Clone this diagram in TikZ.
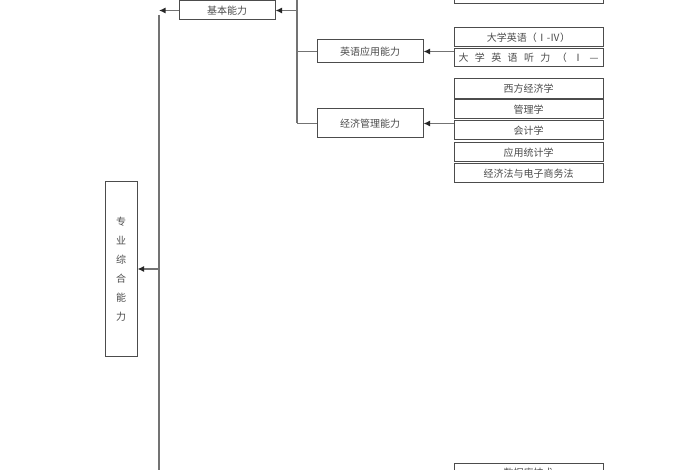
\documentclass[tikz,border=0pt]{standalone}
\usepackage{fontspec}
\newfontfamily\cjk{Noto Sans CJK SC}
\usetikzlibrary{arrows.meta}
\begin{document}
\begin{tikzpicture}[x=1pt,y=-1pt,
  box/.style={draw=black!70, line width=1pt, fill=white, inner sep=0pt,
    font=\cjk\fontsize{10}{12}\selectfont, text=black!70},
  conn/.style={draw=black!55, line width=1.2pt},
  arr/.style={conn, -{Latex[length=6.5pt,width=6pt,color=black!85]}}]
\useasboundingbox (0,0) rectangle (700,470);
% level 2
\node[box, minimum width=96pt, minimum height=19pt] (jb) at (227,10.5) {基本能力};
\node[box, minimum width=106pt, minimum height=23pt] (yy) at (370,51.5) {英语应用能力};
\node[box, minimum width=106pt, minimum height=29pt] (jj) at (370,123.5) {经济管理能力};
% root
\node[box, minimum width=32pt, minimum height=174pt, align=center,
  font=\cjk\fontsize{10}{19}\selectfont] (zh) at (121,269) {专\\业\\综\\合\\能\\力};
% right column
\tikzset{rb/.style={box, minimum width=149pt}}
\node[rb, minimum height=19pt] (top) at (528.5,-5.5) {};
\node[rb, minimum height=19pt] (e1) at (528.5,37.5) {大学英语（Ⅰ-Ⅳ）};
\node[rb, minimum height=18pt] (e2) at (528.5,58) {\makebox[140pt][s]{大\hfill 学\hfill 英\hfill 语\hfill 听\hfill 力\hfill （\hfill Ⅰ\hfill —}};
\node[rb, minimum height=20pt] (c1) at (528.5,89) {西方经济学};
\node[rb, minimum height=19pt] (c2) at (528.5,109.5) {管理学};
\node[rb, minimum height=19pt] (c3) at (528.5,130.5) {会计学};
\node[rb, minimum height=19pt] (c4) at (528.5,152.5) {应用统计学};
\node[rb, minimum height=19pt] (c5) at (528.5,173.5) {经济法与电子商务法};
\node[rb, minimum height=19pt] (db) at (528.5,472.5) {数据库技术};
% trunk to level 2
\coordinate (ta) at (297,-12);
\coordinate (tb) at (297,123.5);
\draw[conn] (ta) -- (tb);
\draw[arr] (ta |- jb.east) -- (jb.east);
\draw[conn] (ta |- yy.west) -- (yy.west);
\draw[conn] (tb) -- (jj.west);
% right groups to level 2
\draw[arr] (e1.west |- yy.east) -- (yy.east);
\draw[arr] (c2.west |- jj.east) -- (jj.east);
% left trunk
\coordinate (la) at (159,15);
\coordinate (lb) at (159,480);
\draw[conn] (la) -- (lb);
\draw[arr] (jb.west) -- (la |- jb.west);
\draw[arr] (la |- zh.east) -- (zh.east);
\end{tikzpicture}
\end{document}
